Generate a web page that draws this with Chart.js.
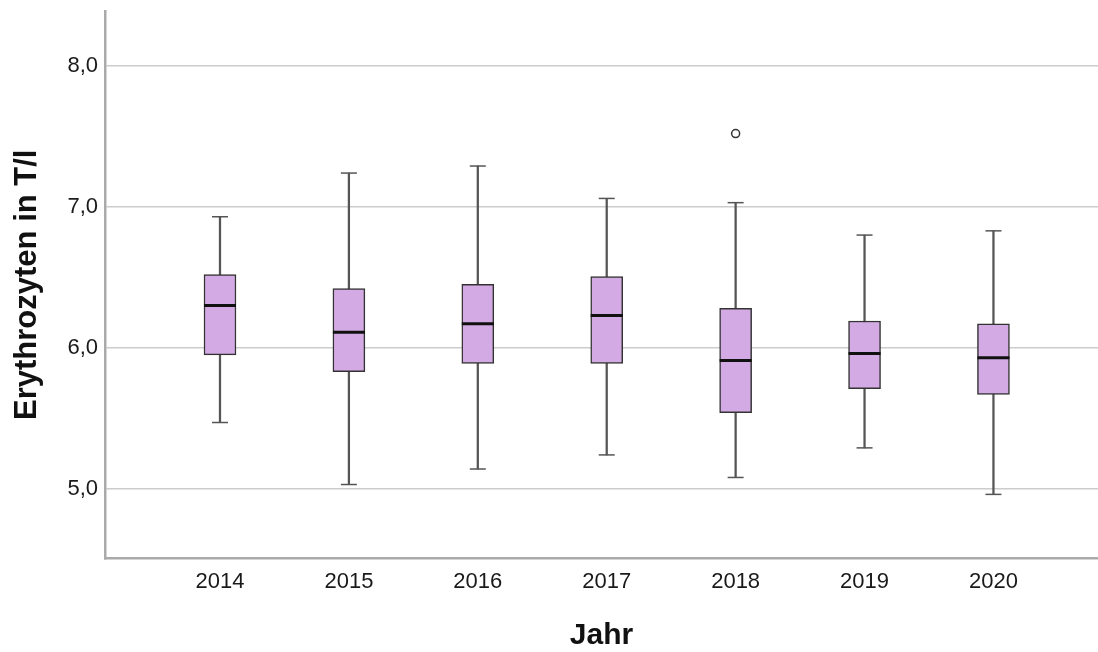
<!DOCTYPE html>
<html><head><meta charset="utf-8">
<script src="https://cdn.jsdelivr.net/npm/chart.js@4/dist/chart.umd.min.js"></script>
<style>html,body{margin:0;padding:0;background:#fff;overflow:hidden}</style>
</head><body>
<canvas id="c" width="1098" height="652" style="width:1098px;height:652px;display:block"></canvas>
<script>
// ---- data ----
const categories   = ['2014','2015','2016','2017','2018','2019','2020'];
const whiskerLow   = [5.47, 5.03, 5.14, 5.24, 5.08, 5.29, 4.96];
const q1           = [5.95, 5.83, 5.89, 5.89, 5.54, 5.71, 5.67];
const median       = [6.30, 6.11, 6.17, 6.23, 5.91, 5.96, 5.93];
const q3           = [6.52, 6.42, 6.45, 6.505, 6.28, 6.19, 6.17];
const whiskerHigh  = [6.93, 7.24, 7.29, 7.06, 7.03, 6.80, 6.83];
const outlierCategory = ['2018'];
const outlierValue    = [7.52];
const yTicks = [5, 6, 7, 8];

const FONT = "'Liberation Sans', Arial, sans-serif";
const idx = c => categories.indexOf(c);

const capPoints = [];
categories.forEach((c, i) => {
  capPoints.push({x: i, y: whiskerLow[i]});
  capPoints.push({x: i, y: whiskerHigh[i]});
});

function noPad(s) { s.paddingTop = 0; s.paddingBottom = 0; s.paddingLeft = 0; s.paddingRight = 0; }

new Chart(document.getElementById('c'), {
  type: 'bar',
  data: {
    datasets: [
      { // median lines
        type: 'scatter', order: 0, clip: false,
        data: categories.map((c, i) => ({x: i, y: median[i]})),
        pointStyle: 'line', radius: 16, hoverRadius: 16,
        borderColor: '#111', borderWidth: 3
      },
      { // outliers
        type: 'scatter', order: 0, clip: false,
        data: outlierCategory.map((c, k) => ({x: idx(c), y: outlierValue[k]})),
        pointStyle: 'circle', radius: 4, hoverRadius: 4,
        backgroundColor: '#fff', borderColor: '#333', borderWidth: 1.5
      },
      { // boxes
        type: 'bar', order: 1, grouped: false,
        data: categories.map((c, i) => ({x: i, y: [q1[i], q3[i]]})),
        barThickness: 32,
        backgroundColor: '#D3AAE3', borderColor: '#333', borderWidth: 1.5,
        borderSkipped: false
      },
      { // whisker stems
        type: 'bar', order: 2, grouped: false,
        data: categories.map((c, i) => ({x: i, y: [whiskerLow[i], whiskerHigh[i]]})),
        barThickness: 1.6,
        backgroundColor: '#555', borderWidth: 0
      },
      { // whisker caps
        type: 'scatter', order: 2, clip: false,
        data: capPoints,
        pointStyle: 'line', radius: 8, hoverRadius: 8,
        borderColor: '#555', borderWidth: 1.5
      }
    ]
  },
  options: {
    responsive: false,
    animation: false,
    events: [],
    layout: { autoPadding: false, padding: { top: 11, right: 0, left: 0, bottom: 0 } },
    plugins: { legend: { display: false }, tooltip: { enabled: false } },
    scales: {
      x: {
        type: 'linear',
        min: -0.892, max: 6.811,
        offset: false,
        afterBuildTicks: s => { s.ticks = categories.map((c, i) => ({value: i})); },
        afterFit: s => { s.height = 93.5; noPad(s); },
        grid: { display: false, drawTicks: false },
        border: { display: true, color: '#aaa', width: 2.5 },
        ticks: {
          padding: 10,
          color: '#1a1a1a',
          font: { family: FONT, size: 22 },
          callback: v => categories[v] ?? ''
        },
        title: {
          display: true, text: 'Jahr', color: '#111',
          font: { family: FONT, size: 30, weight: 'bold', lineHeight: 1 },
          padding: { top: 0, bottom: 1.5 }
        }
      },
      y: {
        type: 'linear',
        min: 4.505, max: 8.39,
        afterBuildTicks: s => { s.ticks = yTicks.map(v => ({value: v})); },
        afterFit: s => { s.width = 105; noPad(s); },
        grid: { color: '#cccccc', lineWidth: 1.5, drawTicks: false },
        border: { display: true, color: '#aaa', width: 2.5 },
        ticks: {
          padding: 7,
          color: '#1a1a1a',
          font: { family: FONT, size: 22 },
          callback: v => v.toFixed(1).replace('.', ',')
        },
        title: {
          display: true, text: 'Erythrozyten in T/l', color: '#111',
          font: { family: FONT, size: 31, weight: 'bold', lineHeight: 1.2 },
          padding: { top: 8.5, bottom: 0 }
        }
      }
    }
  }
});
</script>
</body></html>
